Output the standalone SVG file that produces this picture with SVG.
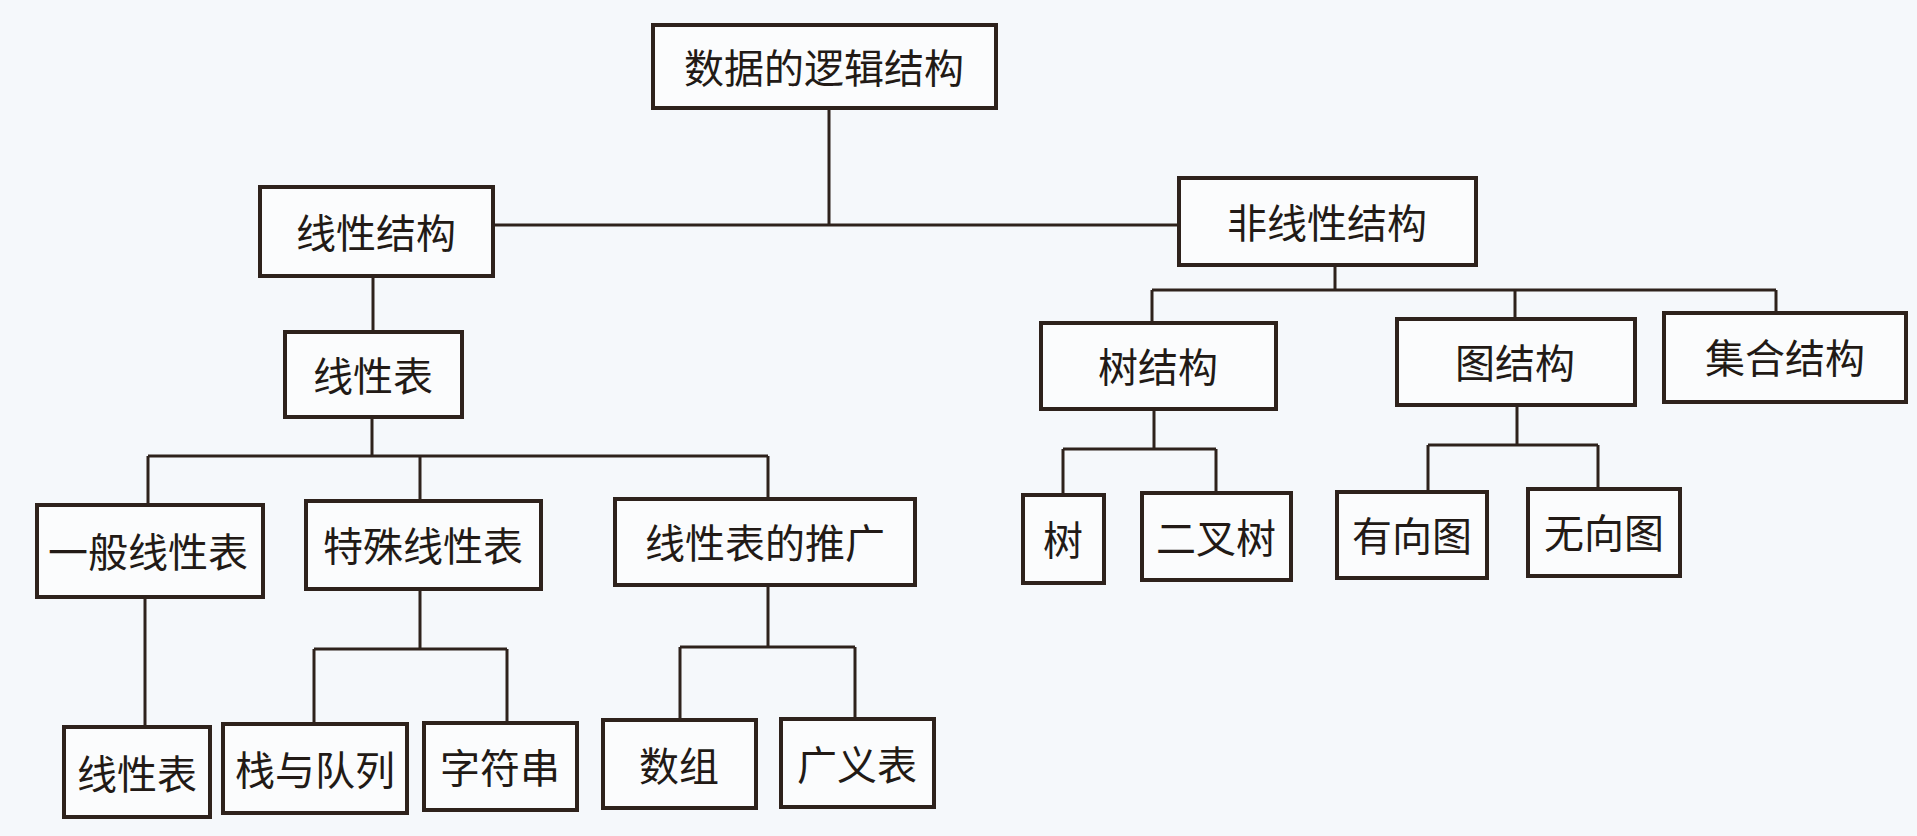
<svg xmlns="http://www.w3.org/2000/svg" width="1917" height="836" viewBox="0 0 1917 836">
<style>
.bg{fill:#f5f8fb}
.box{fill:#fbfcfd;stroke:#2e221c;stroke-width:4}
.t{font-family:"Noto Sans CJK SC","Noto Sans",sans-serif;font-size:40px;fill:#221a16;text-anchor:middle;dominant-baseline:central}
.c{fill:none;stroke:#2e221c;stroke-width:3}
</style>
<rect class="bg" x="0" y="0" width="1917" height="836"/>
<g id="connectors">
<path class="c" d="M829,108 V225 M493,225 H1179"/>
<path class="c" d="M373,276 V332"/>
<path class="c" d="M372,417 V456 M148,456 H768 M148,456 V505 M420,456 V501 M768,456 V499"/>
<path class="c" d="M145,597 V727"/>
<path class="c" d="M420,589 V649 M314,649 H507 M314,649 V724 M507,649 V723"/>
<path class="c" d="M768,585 V647 M680,647 H855 M680,647 V720 M855,647 V719"/>
<path class="c" d="M1335,265 V290 M1152,290 H1776 M1152,290 V323 M1515,290 V318 M1776,290 V313"/>
<path class="c" d="M1154,409 V449 M1063,449 H1216 M1063,449 V495 M1216,449 V493"/>
<path class="c" d="M1517,405 V445 M1428,445 H1598 M1428,445 V492 M1598,445 V489"/>
</g>
<g id="n-root"><rect class="box" x="653" y="25" width="343" height="83"/><text class="t" x="824" y="66">数据的逻辑结构</text></g>
<g id="n-linear"><rect class="box" x="260" y="187" width="233" height="89"/><text class="t" x="376" y="231">线性结构</text></g>
<g id="n-nonlinear"><rect class="box" x="1179" y="178" width="297" height="87"/><text class="t" x="1327" y="221">非线性结构</text></g>
<g id="n-list"><rect class="box" x="285" y="332" width="177" height="85"/><text class="t" x="373" y="374">线性表</text></g>
<g id="n-general"><rect class="box" x="37" y="505" width="226" height="92"/><text class="t" x="148" y="550">一般线性表</text></g>
<g id="n-special"><rect class="box" x="306" y="501" width="235" height="88"/><text class="t" x="423" y="544">特殊线性表</text></g>
<g id="n-ext"><rect class="box" x="615" y="499" width="300" height="86"/><text class="t" x="765" y="541">线性表的推广</text></g>
<g id="n-list2"><rect class="box" x="64" y="727" width="146" height="90"/><text class="t" x="137" y="772">线性表</text></g>
<g id="n-stack"><rect class="box" x="223" y="724" width="184" height="89"/><text class="t" x="315" y="768">栈与队列</text></g>
<g id="n-string"><rect class="box" x="424" y="723" width="153" height="87"/><text class="t" x="500" y="766">字符串</text></g>
<g id="n-array"><rect class="box" x="603" y="720" width="153" height="88"/><text class="t" x="679" y="764">数组</text></g>
<g id="n-glist"><rect class="box" x="781" y="719" width="153" height="88"/><text class="t" x="857" y="763">广义表</text></g>
<g id="n-tree"><rect class="box" x="1041" y="323" width="235" height="86"/><text class="t" x="1158" y="365">树结构</text></g>
<g id="n-graph"><rect class="box" x="1397" y="319" width="238" height="86"/><text class="t" x="1515" y="361">图结构</text></g>
<g id="n-set"><rect class="box" x="1664" y="313" width="242" height="89"/><text class="t" x="1785" y="356">集合结构</text></g>
<g id="n-tree1"><rect class="box" x="1023" y="495" width="81" height="88"/><text class="t" x="1063" y="538">树</text></g>
<g id="n-bintree"><rect class="box" x="1142" y="493" width="149" height="87"/><text class="t" x="1216" y="536">二叉树</text></g>
<g id="n-digraph"><rect class="box" x="1337" y="492" width="150" height="86"/><text class="t" x="1412" y="534">有向图</text></g>
<g id="n-undigraph"><rect class="box" x="1528" y="489" width="152" height="87"/><text class="t" x="1604" y="531">无向图</text></g>
</svg>
